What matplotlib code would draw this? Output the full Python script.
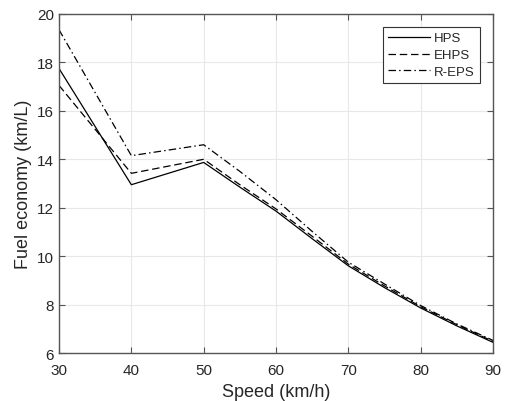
import matplotlib
matplotlib.use('Agg')
import matplotlib.pyplot as plt

# data
speed = [30, 40, 50, 55, 60, 65, 70, 75, 80, 85, 90]
hps = [17.75, 12.95, 13.87, 12.85, 11.86, 10.72, 9.6, 8.7, 7.86, 7.12, 6.44]
ehps = [17.05, 13.42, 14.0, 12.95, 11.95, 10.82, 9.67, 8.77, 7.91, 7.17, 6.48]
reps = [19.35, 14.15, 14.6, 13.5, 12.33, 11.02, 9.75, 8.85, 7.96, 7.2, 6.52]

xticks = [30, 40, 50, 60, 70, 80, 90]
yticks = [6, 8, 10, 12, 14, 16, 18, 20]

plt.rcParams['font.family'] = ['Liberation Sans', 'DejaVu Sans']
txt = '#262626'

fig = plt.figure(figsize=(5.07, 4.02), dpi=100, facecolor='white')
ax = fig.add_axes([0.1164, 0.1194, 0.856, 0.8433])

ax.plot(speed, hps, '-', color='black', lw=0.9, label='HPS')
ax.plot(speed, ehps, '--', color='black', lw=0.9, dashes=(6, 3), label='EHPS')
ax.plot(speed, reps, '-.', color='black', lw=0.9, dashes=(6, 2.5, 1.2, 2.5), label='R-EPS')

ax.set_xlim(30, 90)
ax.set_ylim(6, 20)
ax.set_xticks(xticks)
ax.set_yticks(yticks)
ax.grid(True, color='#e8e8e8', lw=0.8)
ax.set_axisbelow(True)

for s in ax.spines.values():
    s.set_color('#555555')
    s.set_linewidth(1.0)
ax.tick_params(direction='in', top=True, right=True, length=4, width=0.8,
               color='#555555', labelsize=11, labelcolor=txt)
ax.tick_params(axis='x', pad=7.5)

ax.set_xlabel('Speed (km/h)', fontsize=13, color=txt, labelpad=4)
ax.set_ylabel('Fuel economy (km/L)', fontsize=13, color=txt, labelpad=4)

leg = ax.legend(loc='upper right', bbox_to_anchor=(0.970, 0.962), fontsize=9.5,
                handlelength=3.2, fancybox=False, framealpha=1,
                edgecolor='#333333', borderpad=0.4, labelspacing=0.35,
                handletextpad=0.3, borderaxespad=0)
leg.get_frame().set_linewidth(0.8)
for t in leg.get_texts():
    t.set_color(txt)

fig.savefig('out.png', dpi=100)
